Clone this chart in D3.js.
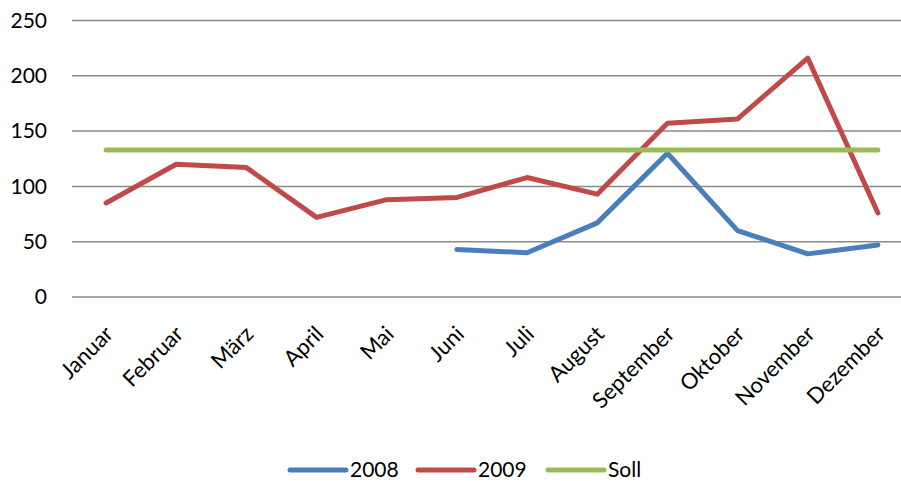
<!DOCTYPE html>
<html>
<head>
<meta charset="utf-8">
<script src="https://cdn.jsdelivr.net/npm/d3@7.9.0/dist/d3.min.js"></script>
<style>
  body { margin: 0; background: #fff; }
  svg { display: block; font-family: Lato, "Open Sans", sans-serif; }
</style>
</head>
<body>
<svg id="chart" width="901" height="481"></svg>
<script>
// months and series
const months = ['Januar', 'Februar', 'März', 'April', 'Mai', 'Juni', 'Juli',
  'August', 'September', 'Oktober', 'November', 'Dezember'];
const values2008 = [null, null, null, null, null, 43, 40, 67, 130, 60, 39, 47];
const values2009 = [85, 120, 117, 72, 88, 90, 108, 93, 157, 161, 216, 76];
const valuesSoll = [133, 133, 133, 133, 133, 133, 133, 133, 133, 133, 133, 133];
const yTicks = [0, 50, 100, 150, 200, 250];

const seriesList = [
  { name: '2008', values: values2008, color: '#4a7ebb' },
  { name: '2009', values: values2009, color: '#be4b48' },
  { name: 'Soll', values: valuesSoll, color: '#9bbb59' }
];

const svg = d3.select('#chart');

// plot area runs past the right edge of the window, like the original
const x = d3.scaleBand().domain(months).range([71, 913]);
const y = d3.scaleLinear().domain([0, 250]).range([297, 20.5]);

// gridlines
svg.append('g')
  .selectAll('line')
  .data(yTicks)
  .join('line')
  .attr('x1', 72)
  .attr('x2', 913)
  .attr('y1', d => y(d))
  .attr('y2', d => y(d))
  .attr('stroke', '#8a8a8a')
  .attr('stroke-width', 1.5);

// y labels
svg.append('g')
  .selectAll('text')
  .data(yTicks)
  .join('text')
  .attr('x', 47)
  .attr('y', d => y(d))
  .attr('dy', '0.35em')
  .attr('text-anchor', 'end')
  .attr('font-size', 21)
  .attr('fill', '#000')
  .text(d => d);

// month labels, rotated
svg.append('g')
  .selectAll('text')
  .data(months)
  .join('text')
  .attr('transform', d => `translate(${x(d) + x.bandwidth() / 2 + 3},${330}) rotate(-45)`)
  .attr('text-anchor', 'end')
  .attr('dy', '0.35em')
  .attr('font-size', 22)
  .attr('fill', '#000')
  .text(d => d);

// lines
const line = d3.line()
  .defined(d => d.v != null)
  .x(d => x(d.m) + x.bandwidth() / 2)
  .y(d => y(d.v));

svg.append('g')
  .selectAll('path')
  .data(seriesList)
  .join('path')
  .attr('d', s => line(months.map((m, i) => ({ m, v: s.values[i] }))))
  .attr('fill', 'none')
  .attr('stroke', s => s.color)
  .attr('stroke-width', 5)
  .attr('stroke-linejoin', 'round')
  .attr('stroke-linecap', 'round');

// legend
const legendX = [290, 418, 548];
const legend = svg.append('g')
  .selectAll('g')
  .data(seriesList)
  .join('g')
  .attr('transform', (d, i) => `translate(${legendX[i]},470)`);

legend.append('line')
  .attr('x1', 0)
  .attr('x2', 56)
  .attr('stroke', d => d.color)
  .attr('stroke-width', 5)
  .attr('stroke-linecap', 'round');

legend.append('text')
  .attr('x', 60)
  .attr('dy', '0.35em')
  .attr('font-size', 21)
  .attr('fill', '#000')
  .text(d => d.name);
</script>
</body>
</html>
